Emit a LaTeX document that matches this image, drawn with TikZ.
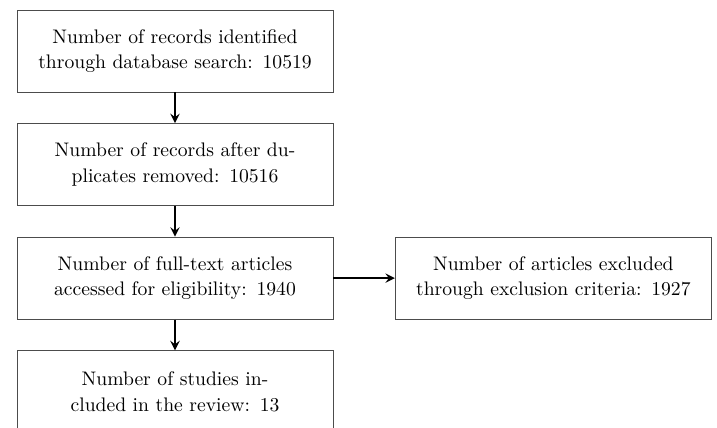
\documentclass[tikz,border=0pt]{standalone}
\usetikzlibrary{positioning}
\begin{document}
\begin{tikzpicture}[
    >=stealth,
    font=\fontsize{10.9}{14}\selectfont,
    % box and connector styles
    stagebox/.style={draw=black!70, line width=0.5pt, align=center, text width=5.9cm,
      minimum width=6.17cm, minimum height=1.6cm, inner sep=0pt},
    flow/.style={->, line width=1.3pt, draw=black},
    node distance=0.6cm and 1.2cm
  ]

  % bounding box locked to the 717x427 frame
  \useasboundingbox (0, 0) rectangle (14, -8.338);

  % ---------------------------------------------------------
  % MAIN COLUMN
  % ---------------------------------------------------------
  \node[stagebox] (ident) at (3.417, -0.996) {Number of records identified through database search: 10519};
  \node[stagebox, below=of ident] (dedup) {Number of records after duplicates removed: 10516};
  \node[stagebox, below=of dedup] (full) {Number of full-text articles accessed for eligibility: 1940};
  \node[stagebox, below=of full] (incl) {Number of studies included in the review: 13};

  % ---------------------------------------------------------
  % EXCLUSION BRANCH
  % ---------------------------------------------------------
  \node[stagebox, right=of full] (excl) {Number of articles excluded through exclusion criteria: 1927};

  % connectors
  \draw[flow] (ident) -- (dedup);
  \draw[flow] (dedup) -- (full);
  \draw[flow] (full) -- (incl);
  \draw[flow] (full) -- (excl);

\end{tikzpicture}
\end{document}
